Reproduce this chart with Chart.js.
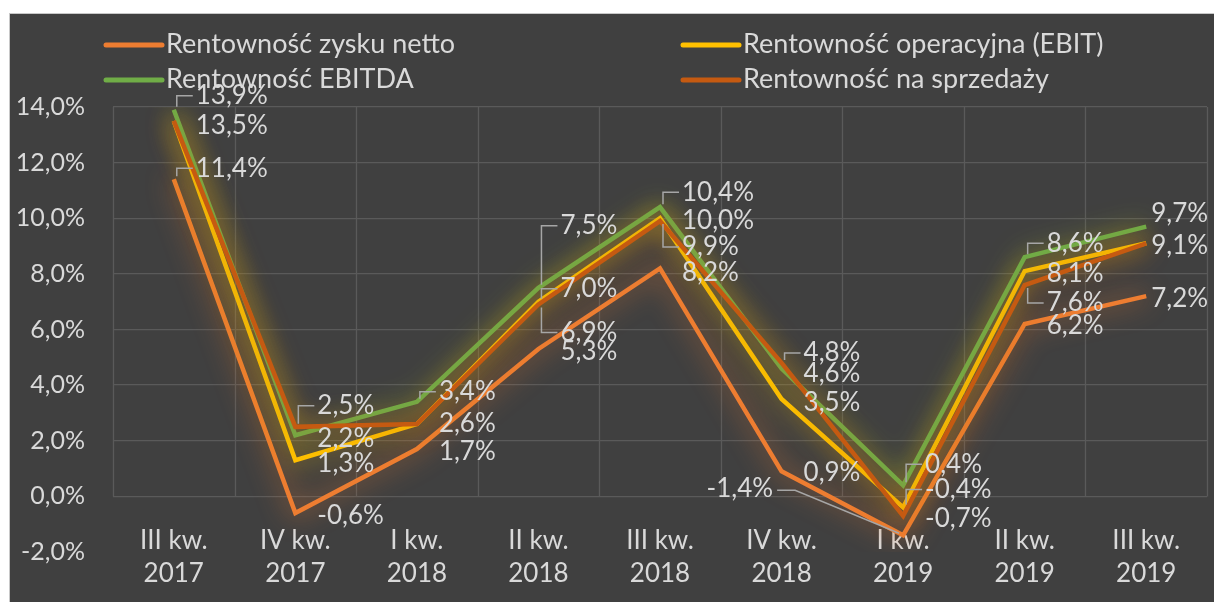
<!DOCTYPE html>
<html><head><meta charset="utf-8">
<script src="https://cdn.jsdelivr.net/npm/chart.js@4/dist/chart.umd.min.js"></script>
<style>
html,body{margin:0;padding:0;background:#ffffff;}
#wrap{position:absolute;left:9px;top:13px;width:1205px;height:589px;background:#404040;border-left:1px solid #c8c8c8;border-top:1px solid #c8c8c8;box-sizing:border-box;}
canvas{display:block}
</style></head><body>
<div id="wrap"><canvas id="c"></canvas></div>
<script>
// ---- data ----
const categories = [['III kw.','2017'],['IV kw.','2017'],['I kw.','2018'],['II kw.','2018'],['III kw.','2018'],['IV kw.','2018'],['I kw.','2019'],['II kw.','2019'],['III kw.','2019']];
const seriesNames = ['Rentowność zysku netto','Rentowność operacyjna (EBIT)','Rentowność EBITDA','Rentowność na sprzedaży'];
const netto    = [11.4, -0.6, 1.7, 5.3, 8.2, 0.9, -1.4, 6.2, 7.2];
const ebit     = [13.5,  1.3, 2.6, 7.0, 10.0, 3.5, -0.4, 8.1, 9.1];
const ebitda   = [13.9,  2.2, 3.4, 7.5, 10.4, 4.6,  0.4, 8.6, 9.7];
const sprzedaz = [13.5,  2.5, 2.6, 6.9,  9.9, 4.8, -0.7, 7.6, 9.1];
const yMin = -2, yMax = 14, yStep = 2;

// ---- label layout nudges (pixels, relative to each point) ----
const labelDy = [
  [-11, 3, 3, 3, 4, 1, -47, 2, 2],
  [5, 3, 0, -13, 2, 4, -18, 3, 2],
  [-14, 3, -10, -62, -15, 5, -21, -14, -13],
  [5, -21, 0, 28, 26, -10, 3, 18, 2]
];
const colors = ['#ED7D31','#FFC000','#70AD47','#C55A11'];
const glow = ['rgba(237,125,49,0.9)','rgba(255,192,0,0.85)','rgba(170,200,40,0.85)','rgba(205,100,20,0.9)'];
const FONT = 'Lato, "Open Sans", sans-serif';
const TXT = '#D9D9D9';
const fmt = v => v.toFixed(1).replace('.', ',') + '%';

const seriesData = [netto, ebit, ebitda, sprzedaz];

const glowPlugin = {
  id: 'glow',
  beforeDatasetDraw(chart, args) {
    const ctx = chart.ctx; ctx.save();
    ctx.shadowColor = glow[args.index]; ctx.shadowBlur = 26;
  },
  afterDatasetDraw(chart) { chart.ctx.restore(); }
};

const decor = {
  id: 'decor',
  beforeDatasetsDraw(chart) {
    const ctx = chart.ctx, xs = chart.scales.x, ys = chart.scales.y, ca = chart.chartArea;
    const step = xs.getPixelForValue(1) - xs.getPixelForValue(0);
    const y0 = ys.getPixelForValue(0);
    ctx.save();
    ctx.strokeStyle = '#5a5a5a'; ctx.lineWidth = 1.3;
    for (let i = 0; i <= categories.length; i++) {
      const x = Math.round(xs.getPixelForValue(0) - step / 2 + i * step) + 0.5;
      ctx.beginPath(); ctx.moveTo(x, ca.top); ctx.lineTo(x, y0); ctx.stroke();
    }
    // category labels
    ctx.fillStyle = TXT; ctx.font = '26px ' + FONT; ctx.textAlign = 'center'; ctx.textBaseline = 'middle';
    categories.forEach((c, i) => {
      const x = xs.getPixelForValue(i);
      ctx.fillText(c[0], x, ca.bottom - 11);
      ctx.fillText(c[1], x, ca.bottom + 22);
    });
    ctx.restore();
  },
  afterDatasetsDraw(chart) {
    const ctx = chart.ctx;
    const drawn = new Set();
    ctx.save();
    ctx.font = '26px ' + FONT; ctx.textBaseline = 'middle';
    seriesData.forEach((arr, s) => {
      const meta = chart.getDatasetMeta(s);
      arr.forEach((v, i) => {
        const p = meta.data[i];
        const px = p.x, py = p.y;
        const dy = labelDy[s][i];
        const ly = py + dy;
        const txt = fmt(v);
        ctx.strokeStyle = '#A6A6A6'; ctx.lineWidth = 1.5;
        if (s === 0 && i === 6) {
          const rx = px - 130;
          ctx.fillStyle = TXT; ctx.textAlign = 'right'; ctx.fillText(txt, rx, ly);
          ctx.beginPath(); ctx.moveTo(rx + 4, ly + 2); ctx.lineTo(rx + 22, ly + 2); ctx.lineTo(px - 4, py - 2); ctx.stroke();
          return;
        }
        const lastCol = i === arr.length - 1;
        const lx = lastCol ? px + 5 : px + 22;
        const key = txt + '@' + Math.round(lx) + ',' + Math.round(ly);
        if (drawn.has(key)) return;
        drawn.add(key);
        if (!lastCol && Math.abs(dy) >= 8) {
          ctx.beginPath();
          ctx.moveTo(lx - 3, ly); ctx.lineTo(px + 3, ly); ctx.lineTo(px + 3, py + (dy < 0 ? -3 : 3)); ctx.stroke();
        }
        ctx.fillStyle = TXT; ctx.textAlign = 'left';
        ctx.fillText(txt, lx, ly);
      });
    });
    // legend
    const items = [[0, 96, 30], [1, 673, 30], [2, 96, 65], [3, 673, 65]];
    ctx.font = '27px ' + FONT; ctx.textAlign = 'left';
    items.forEach(([s, x, y]) => {
      ctx.strokeStyle = colors[s]; ctx.lineWidth = 5; ctx.lineCap = 'round';
      ctx.beginPath(); ctx.moveTo(x, y + 1); ctx.lineTo(x + 56, y + 1); ctx.stroke();
      ctx.fillStyle = TXT; ctx.fillText(seriesNames[s], x + 60, y);
    });
    ctx.restore();
  }
};

new Chart(document.getElementById('c'), {
  type: 'line',
  data: {
    labels: categories.map(c => c.join(' ')),
    datasets: seriesData.map((d, s) => ({
      label: seriesNames[s], data: d, borderColor: colors[s], backgroundColor: colors[s],
      borderWidth: 4.5, pointRadius: 0, tension: 0, fill: false, order: 3 - s,
      borderJoinStyle: 'miter'
    }))
  },
  options: {
    responsive: true, maintainAspectRatio: false, animation: false,
    layout: { padding: { left: 0, right: 7, top: 93, bottom: 50 } },
    plugins: { legend: { display: false }, tooltip: { enabled: false } },
    scales: {
      x: { display: false, offset: true },
      y: {
        min: yMin, max: yMax,
        afterFit(scale) { scale.width = 103; },
        border: { display: false },
        grid: { drawTicks: false, color: c => (c.tick && c.tick.value >= 0 ? '#5a5a5a' : 'rgba(0,0,0,0)'), lineWidth: 1.3 },
        ticks: { stepSize: yStep, padding: 28, color: TXT, font: { family: FONT, size: 25 }, callback: v => fmt(v) }
      }
    }
  },
  plugins: [glowPlugin, decor]
});
</script>
</body></html>
